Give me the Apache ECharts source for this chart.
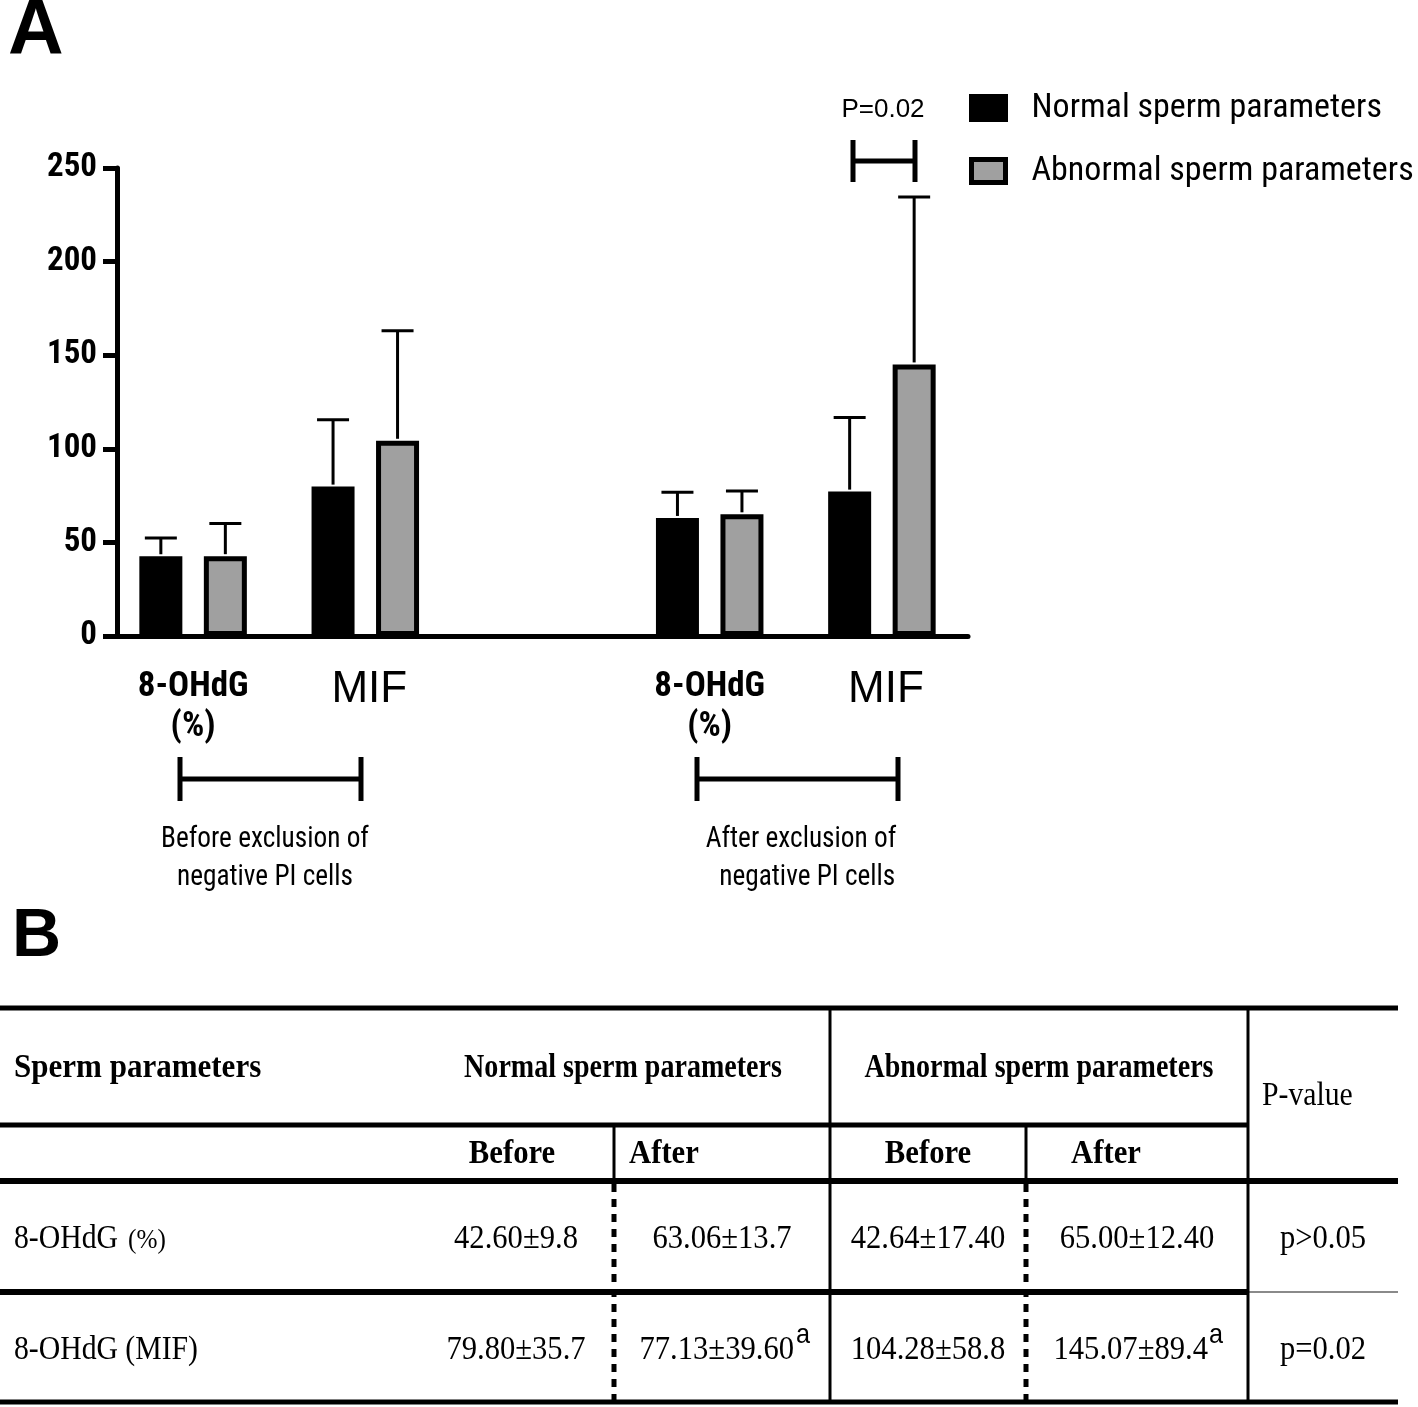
<!DOCTYPE html>
<html>
<head>
<meta charset="utf-8">
<script src="https://cdn.jsdelivr.net/npm/echarts@6/dist/echarts.min.js"></script>
<style>
html,body{margin:0;padding:0;background:#fff;}
#chart{width:1418px;height:1407px;}
</style>
</head>
<body>
<div id="chart"></div>
<script>
// ---------- DATA ----------
const categories = ['8-OHdG\n(%)', 'MIF', '', '8-OHdG\n(%)', 'MIF'];
const normalMean = [42.60, 79.80, null, 63.06, 77.13];
const normalSD = [9.8, 35.7, null, 13.7, 39.60];
const abnormalMean = [42.64, 104.28, null, 65.00, 145.07];
const abnormalSD = [17.40, 58.8, null, 12.40, 89.4];
const seriesNames = ['Normal sperm parameters', 'Abnormal sperm parameters'];
const yTickValues = [0, 50, 100, 150, 200, 250];
const groupLabels = ['Before exclusion of\nnegative PI cells', 'After exclusion of\n  negative PI cells'];
const pLabel = 'P=0.02';

// table
const tableHeaderTop = ['Sperm parameters', 'Normal sperm parameters', 'Abnormal sperm parameters', 'P-value'];
const tableHeaderSub = ['Before', 'After', 'Before', 'After'];
const tableRowLabels = [['8-OHdG ', '(%)'], ['8-OHdG (MIF)', '']];
const tableNormalBefore = ['42.60±9.8', '79.80±35.7'];
const tableNormalAfter = ['63.06±13.7', '77.13±39.60'];
const tableAbnormalBefore = ['42.64±17.40', '104.28±58.8'];
const tableAbnormalAfter = ['65.00±12.40', '145.07±89.4'];
const tableAfterMark = ['', 'a'];
const tablePValues = ['p>0.05', 'p=0.02'];

// ---------- STYLE ----------
const SANS = '"Liberation Sans", Arial, sans-serif';
const COND = '"Roboto Condensed", "Liberation Sans", Arial, sans-serif';
const SERIF = '"Liberation Serif", "Times New Roman", serif';
const GRAY = '#a0a0a0';
const BAR_W = 43;
const BAR_GAP = 0.5;
const OFFSET = BAR_W * (1 + BAR_GAP) / 2;
const CAP = 32;

const chart = echarts.init(document.getElementById('chart'), null, {renderer: 'canvas'});

function errorSeries(name, means, sds, sign) {
  const data = [];
  means.forEach((m, i) => { if (m != null) data.push([i, m, m + sds[i]]); });
  return {
    type: 'custom', name: name + ' SD', data: data, z: 3, silent: true,
    encode: {x: 0, y: [1, 2]},
    renderItem: function (params, api) {
      const i = api.value(0);
      const p0 = api.coord([i, api.value(1)]);
      const p1 = api.coord([i, api.value(2)]);
      const x = p0[0] + sign * OFFSET;
      return {
        type: 'group', children: [
          {type: 'line', shape: {x1: x, y1: p0[1] - 2, x2: x, y2: p1[1]}, style: {stroke: '#000', lineWidth: 3}},
          {type: 'line', shape: {x1: x - CAP / 2, y1: p1[1], x2: x + CAP / 2, y2: p1[1]}, style: {stroke: '#000', lineWidth: 3}}
        ]
      };
    }
  };
}

// ---------- GRAPHICS ----------
const g = [];
function hline(x1, x2, y, w, color, dash) {
  g.push({type: 'line', shape: {x1: x1, y1: y, x2: x2, y2: y}, style: {stroke: color || '#000', lineWidth: w, lineDash: dash || null}, silent: true});
}
function vline(x, y1, y2, w, color, dash) {
  g.push({type: 'line', shape: {x1: x, y1: y1, x2: x, y2: y2}, style: {stroke: color || '#000', lineWidth: w, lineDash: dash || null}, silent: true});
}
function txt(s, x, y, opt) {
  opt = opt || {};
  g.push({
    type: 'text', x: x, y: y, scaleX: opt.scaleX || 1, silent: true,
    style: {
      text: s, x: 0, y: 0, fill: '#000',
      font: (opt.weight || 'normal') + ' ' + (opt.size || 34) + 'px ' + (opt.family || SERIF),
      align: opt.align || 'left', verticalAlign: opt.va || 'middle',
      lineHeight: opt.lineHeight || undefined
    }
  });
}

// panel labels
txt('A', 8, 33, {family: SANS, weight: 'bold', size: 77});
txt('B', 12, 937, {family: SANS, weight: 'bold', size: 68});

// P bracket
txt(pLabel, 883, 110, {family: SANS, size: 26, align: 'center'});
vline(853, 140, 182, 5);
vline(915, 140, 182, 5);
hline(853, 915, 161, 5);

// group brackets
vline(180, 757, 801, 5); vline(361, 757, 801, 5); hline(180, 361, 779, 5);
vline(697, 757, 801, 5); vline(898, 757, 801, 5); hline(697, 898, 779, 5);
txt(groupLabels[0], 265, 858, {family: COND, size: 30, align: 'center', lineHeight: 38, scaleX: 0.91});
txt(groupLabels[1], 801, 858, {family: COND, size: 30, align: 'center', lineHeight: 38, scaleX: 0.91});

// table lines
hline(0, 1398, 1008, 5);
hline(0, 1248, 1125, 5);
hline(0, 1398, 1181, 6);
hline(0, 1248, 1292, 6);
hline(1248, 1398, 1292, 2, '#8a8a8a');
hline(0, 1398, 1402, 5);
vline(830, 1008, 1402, 3);
vline(1248, 1008, 1402, 3);
vline(614, 1125, 1181, 3);
vline(1026, 1125, 1181, 3);
vline(614, 1184, 1402, 5, '#000', [8, 7]);
vline(1026, 1184, 1402, 5, '#000', [8, 7]);

const SX = 0.9;
// header
txt(tableHeaderTop[0], 14, 1068, {weight: 'bold', size: 33, scaleX: 0.94});
txt(tableHeaderTop[1], 623, 1068, {weight: 'bold', size: 33, scaleX: 0.85, align: 'center'});
txt(tableHeaderTop[2], 1039, 1068, {weight: 'bold', size: 33, scaleX: 0.85, align: 'center'});
txt(tableHeaderTop[3], 1262, 1096, {size: 33, scaleX: SX});
txt(tableHeaderSub[0], 512, 1154, {weight: 'bold', size: 33, scaleX: 0.93, align: 'center'});
txt(tableHeaderSub[1], 629, 1154, {weight: 'bold', size: 33, scaleX: 0.93});
txt(tableHeaderSub[2], 928, 1154, {weight: 'bold', size: 33, scaleX: 0.93, align: 'center'});
txt(tableHeaderSub[3], 1106, 1154, {weight: 'bold', size: 33, scaleX: 0.93, align: 'center'});

// rows
const rowY = [1239, 1350];
for (let r = 0; r < 2; r++) {
  const y = rowY[r];
  txt(tableRowLabels[r][0], 14, y, {size: 33, scaleX: SX});
  if (tableRowLabels[r][1]) txt(tableRowLabels[r][1], 128, y + 2, {size: 28, scaleX: SX});
  txt(tableNormalBefore[r], 516, y, {size: 34, scaleX: SX, align: 'center'});
  if (tableAfterMark[r]) {
    txt(tableNormalAfter[r], 794, y, {size: 34, scaleX: SX, align: 'right'});
    txt(tableAfterMark[r], 796, y - 15, {family: SANS, size: 28, scaleX: SX});
  } else {
    txt(tableNormalAfter[r], 722, y, {size: 34, scaleX: SX, align: 'center'});
  }
  txt(tableAbnormalBefore[r], 928, y, {size: 34, scaleX: SX, align: 'center'});
  if (tableAfterMark[r]) {
    txt(tableAbnormalAfter[r], 1208, y, {size: 34, scaleX: SX, align: 'right'});
    txt(tableAfterMark[r], 1209, y - 15, {family: SANS, size: 28, scaleX: SX});
  } else {
    txt(tableAbnormalAfter[r], 1137, y, {size: 34, scaleX: SX, align: 'center'});
  }
  txt(tablePValues[r], 1323, y, {size: 34, scaleX: SX, align: 'center'});
}

const option = {
  animation: false,
  backgroundColor: '#fff',
  grid: {left: 107, right: 450, top: 168, bottom: 771, containLabel: false},
  legend: {
    orient: 'vertical', left: 964, top: 86, itemWidth: 34, itemHeight: 23, itemGap: 29,
    icon: 'rect', selectedMode: false,
    itemStyle: {borderColor: '#000', borderWidth: 5},
    textStyle: {fontFamily: COND, fontSize: 34, color: '#000', padding: [0, 0, 0, 21]},
    data: seriesNames
  },
  xAxis: {
    type: 'category', data: categories,
    axisLine: {lineStyle: {color: '#000', width: 5}},
    axisTick: {alignWithLabel: true, length: 20, lineStyle: {color: '#000', width: 5}},
    axisLabel: {
      interval: 0, margin: 31, color: '#000',
      formatter: function (v) {
        if (!v) return '';
        if (v === 'MIF') return '{m|MIF}';
        return v.split('\n').map(s => '{b|' + s + '}').join('\n');
      },
      rich: {
        b: {fontFamily: COND, fontWeight: 'bold', fontSize: 35, lineHeight: 40, color: '#000'},
        m: {fontFamily: SANS, fontSize: 44, lineHeight: 46, color: '#000', padding: [0, 0, 0, 8]}
      }
    }
  },
  yAxis: {
    type: 'value', min: yTickValues[0], max: yTickValues[yTickValues.length - 1], interval: 50, offset: -10,
    axisLine: {show: true, lineStyle: {color: '#000', width: 5}},
    axisTick: {show: true, length: 14, lineStyle: {color: '#000', width: 5}},
    splitLine: {show: false},
    axisLabel: {margin: 20, color: '#000', fontFamily: COND, fontWeight: 'bold', fontSize: 33}
  },
  series: [
    {
      name: seriesNames[0], type: 'bar', data: normalMean.map(v => v == null ? '-' : v),
      barWidth: BAR_W, barGap: (BAR_GAP * 100) + '%', z: 2,
      itemStyle: {color: '#000', borderColor: '#000', borderWidth: 5}
    },
    {
      name: seriesNames[1], type: 'bar', data: abnormalMean.map(v => v == null ? '-' : v),
      barWidth: BAR_W, barGap: (BAR_GAP * 100) + '%', z: 2,
      itemStyle: {color: GRAY, borderColor: '#000', borderWidth: 5}
    },
    errorSeries(seriesNames[0], normalMean, normalSD, -1),
    errorSeries(seriesNames[1], abnormalMean, abnormalSD, 1)
  ],
  graphic: {elements: g}
};
chart.setOption(option);
</script>
</body>
</html>
